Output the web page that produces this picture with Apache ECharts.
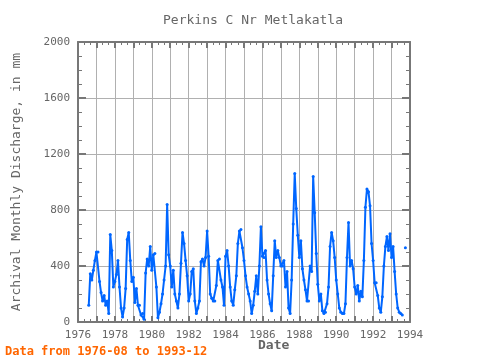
<!DOCTYPE html>
<html>
<head>
<meta charset="utf-8">
<script src="https://cdn.jsdelivr.net/npm/echarts@6/dist/echarts.min.js"></script>
<style>html,body{margin:0;padding:0;background:#fff}#c{width:480px;height:360px}</style>
</head>
<body>
<div id="c"></div>
<script>
// Monthly discharge (mm), starting 1976-08
var startYear = 1976;
var startMonth = 8;
var values = [
  120, 345, 300, 370, 440,
  500, 500, 290, 210, 150, 190, 120, 150, 60, 625, 510, 250,
  290, 340, 440, 250, 100, 35, 100, 240, 590, 640, 440, 290,
  320, 140, 240, 120, 120, 50, 60, 20, 350, 450, 400, 540,
  370, 480, 490, 250, 30, 70, 130, 200, 300, 400, 840, 480,
  400, 250, 370, 200, 150, 100, 200, 420, 640, 560, 440, 330,
  150, 200, 360, 380, 150, 60, 100, 150, 430, 450, 400, 460,
  650, 470, 200, 170, 150, 150, 260, 440, 450, 300, 250, 120,
  470, 510, 400, 250, 150, 120, 230, 330, 560, 650, 660, 530,
  440, 330, 250, 200, 150, 60, 120, 220, 330, 200, 400, 680,
  470, 460, 510, 300, 200, 130, 80, 330, 580, 460, 510, 460,
  400, 400, 440, 250, 360, 100, 60, 300, 700, 1060, 810, 620,
  460, 580, 380, 300, 230, 150, 150, 400, 360, 1040, 780, 490,
  270, 150, 200, 80, 60, 70, 130, 250, 540, 640, 580, 460,
  300, 200, 100, 70, 60, 60, 130, 460, 710, 400, 440, 380,
  250, 200, 260, 150, 220, 180, 440, 820, 950, 930, 830, 560,
  440, 280, 280, 190, 100, 70, 180, 400, 540, 610, 510, 630,
  460, 540, 360, 200, 100, 70, 60, 50, null, 530, null, null
];
var titleText = "Perkins C Nr Metlakatla";
var yName = "Archival Monthly Discharge, in mm";
var xName = "Date";
var footText = "Data from 1976-08 to 1993-12";
var xMin = 1976, xMax = 1994, xStep = 1;
var yMin = 0, yMax = 2000, yStep = 400;

var seriesData = values.map(function (v, i) {
  return [startYear + (startMonth - 1 + i) / 12, v];
});

var FONT = "DejaVu Sans Mono";
var AX = "#777777";
var chart = echarts.init(document.getElementById('c'), null, {renderer: 'canvas'});
var gridPos = {left: 78, right: 70, top: 42, bottom: 38};

function xAxisCfg(pos, labels) {
  return {
    type: 'value', position: pos, min: xMin, max: xMax, interval: xStep,
    axisLine: {show: true, onZero: false, lineStyle: {color: AX, width: 2}},
    axisTick: {show: true, inside: true, length: 6, lineStyle: {color: AX, width: 2}},
    minorTick: {show: true, splitNumber: 3, length: 3, lineStyle: {color: AX, width: 1}},
    splitLine: {show: labels, lineStyle: {color: '#b0b0b0', width: 1}},
    axisLabel: {show: labels, color: '#666', fontFamily: FONT, fontSize: 11, margin: 8,
      formatter: function (v) { return (Math.round(v) % 2 === 0) ? String(Math.round(v)) : ''; }}
  };
}
function yAxisCfg(pos, labels) {
  return {
    type: 'value', position: pos, min: yMin, max: yMax, interval: yStep,
    axisLine: {show: true, onZero: false, lineStyle: {color: AX, width: 2}},
    axisTick: {show: true, inside: true, length: 8, lineStyle: {color: AX, width: 2}},
    minorTick: {show: true, splitNumber: 4, length: 4, lineStyle: {color: AX, width: 1}},
    splitLine: {show: labels, lineStyle: {color: '#b0b0b0', width: 1}},
    axisLabel: {show: labels, color: '#666', fontFamily: FONT, fontSize: 11, margin: 8,
      formatter: function (v) { return String(v); }},
    name: labels ? yName : '', nameLocation: 'middle', nameGap: 55, nameRotate: 90,
    nameTextStyle: {color: '#666', fontFamily: FONT, fontSize: 13}
  };
}

chart.setOption({
  animation: false,
  backgroundColor: '#fff',
  title: {text: titleText, left: 158, top: 9,
    textStyle: {color: '#666', fontFamily: FONT, fontSize: 13, fontWeight: 'normal'}},
  grid: gridPos,
  xAxis: [xAxisCfg('bottom', true), xAxisCfg('top', false)],
  yAxis: [yAxisCfg('left', true), yAxisCfg('right', false)],
  graphic: [
    {type: 'text', left: 258, top: 339, style: {text: xName, fill: '#666', font: 'bold 13px "DejaVu Sans Mono"'}},
    {type: 'text', left: 5, top: 346, style: {text: footText, fill: '#ff6600', font: 'bold 12px "DejaVu Sans Mono"'}}
  ],
  series: [{
    type: 'line', data: seriesData, connectNulls: false,
    showSymbol: true, symbol: 'circle', symbolSize: 3,
    lineStyle: {color: '#0066ff', width: 2},
    itemStyle: {color: '#0066ff'},
    z: 3
  }]
});
</script>
</body>
</html>
